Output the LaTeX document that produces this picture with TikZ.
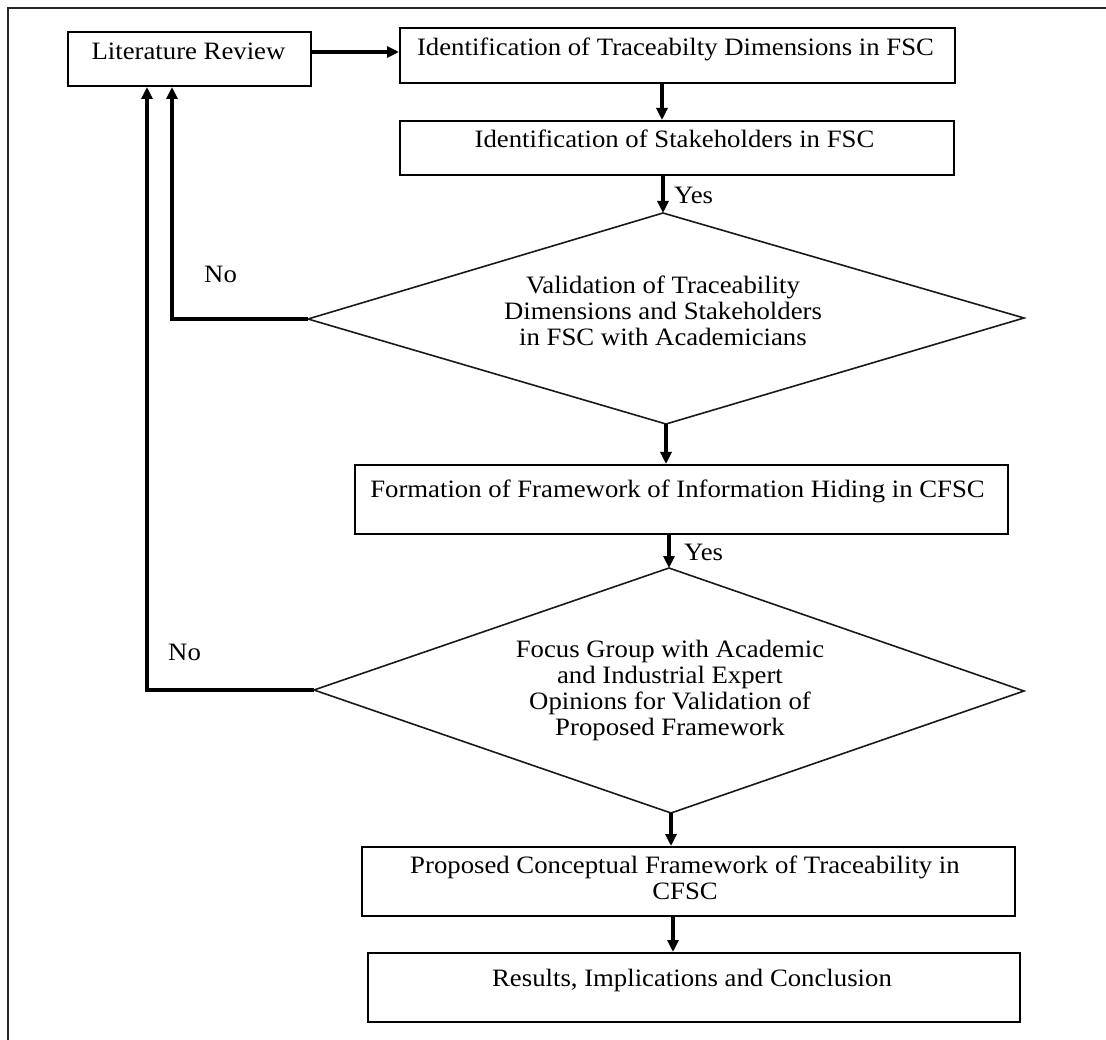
\documentclass[tikz,border=0pt]{standalone}
\usepackage{fontspec}
\setmainfont[FakeStretch=1.07]{Liberation Serif}
\usetikzlibrary{arrows.meta}
\newcommand{\lbfont}{\fontsize{25}{26}\selectfont}
\begin{document}
\begin{tikzpicture}[x=1pt,y=-1pt,
  box/.style={draw=black, line width=2pt, rectangle, inner sep=0pt},
  txt/.style={align=center, inner sep=0pt, font=\lbfont, anchor=north},
  lab/.style={inner sep=0pt, font=\lbfont, anchor=base west},
  dia/.style={draw=black!90, line width=1.6pt, line join=miter},
  arr/.style={draw=black, line width=3.6pt, -{Triangle[length=12pt,width=11pt]}},
  framestyle/.style={draw=black!85, line width=2.4pt}]
\useasboundingbox (0,0) rectangle (1106,1040);
% frame
\draw[framestyle] (8,1040) -- (8,8) -- (1106,8);
% boxes
\node[box, minimum width=243pt, minimum height=54pt] (lit) at (189.5,59) {};
\node[box, minimum width=555pt, minimum height=55pt] (ident) at (677.5,55.5) {};
\node[box, minimum width=554pt, minimum height=54pt] (stake) at (677,148) {};
\node[box, minimum width=653pt, minimum height=69pt] (form) at (681.5,499.5) {};
\node[box, minimum width=653pt, minimum height=69pt] (prop) at (688.5,881.5) {};
\node[box, minimum width=652pt, minimum height=69pt] (res) at (694,987.5) {};
% diamonds
\coordinate (d1t) at (663,213);
\coordinate (d1r) at (1024,318);
\coordinate (d1b) at (666,424);
\coordinate (d1l) at (308,319);
\coordinate (d2t) at (669,568);
\coordinate (d2r) at (1024,691);
\coordinate (d2b) at (671,813);
\coordinate (d2l) at (314,690);
\draw[dia] (d1t) -- (d1r) -- (d1b) -- (d1l) -- cycle;
\draw[dia] (d2t) -- (d2r) -- (d2b) -- (d2l) -- cycle;
% texts
\node[txt] (litT) at (188.5,40.8) {\strut Literature Review};
\node[txt] (identT) at (675.5,36.8) {\strut Identification of Traceabilty Dimensions in FSC};
\node[txt] (stakeT) at (674.5,128.8) {\strut Identification of Stakeholders in FSC};
\node[txt] (d1T) at (663,274.8) {\strut Validation of Traceability\\Dimensions and Stakeholders\\in FSC with Academicians};
\node[txt] (formT) at (677.5,478.8) {\strut Formation of Framework of Information Hiding in CFSC};
\node[txt] (d2T) at (670,638.8) {\strut Focus Group with Academic\\and Industrial Expert\\Opinions for Validation of\\Proposed Framework};
\node[txt] (propT) at (685,854.8) {\strut Proposed Conceptual Framework of Traceability in\\CFSC};
\node[txt] (resT) at (692,967.8) {\strut Results, Implications and Conclusion};
% labels
\node[lab] (yes1) at (674,204) {Yes};
\node[lab] (yes2) at (684,560) {Yes};
\node[lab] (no1) at (204,283) {No};
\node[lab] (no2) at (168,660) {No};
% connectors
\draw[arr] ([yshift=7pt]lit.east) -- ([yshift=7pt]lit.east -| ident.west);
\draw[arr] ([xshift=-15.5pt]ident.south) -- ([xshift=-15.5pt]ident.south |- stake.north);
\draw[arr] (stake.south -| d1t) -- (d1t);
\draw[arr] (d1b) -- (d1b |- form.north);
\draw[arr] (form.south -| d2t) -- (d2t);
\draw[arr] (d2b) -- (d2b |- prop.north);
\draw[arr] ([xshift=-15.5pt]prop.south) -- ([xshift=-15.5pt]prop.south |- res.north);
\draw[arr] (d1l) -| ([xshift=-17.5pt]lit.south);
\draw[arr] (d2l) -| ([xshift=-42.5pt]lit.south);
\end{tikzpicture}
\end{document}
